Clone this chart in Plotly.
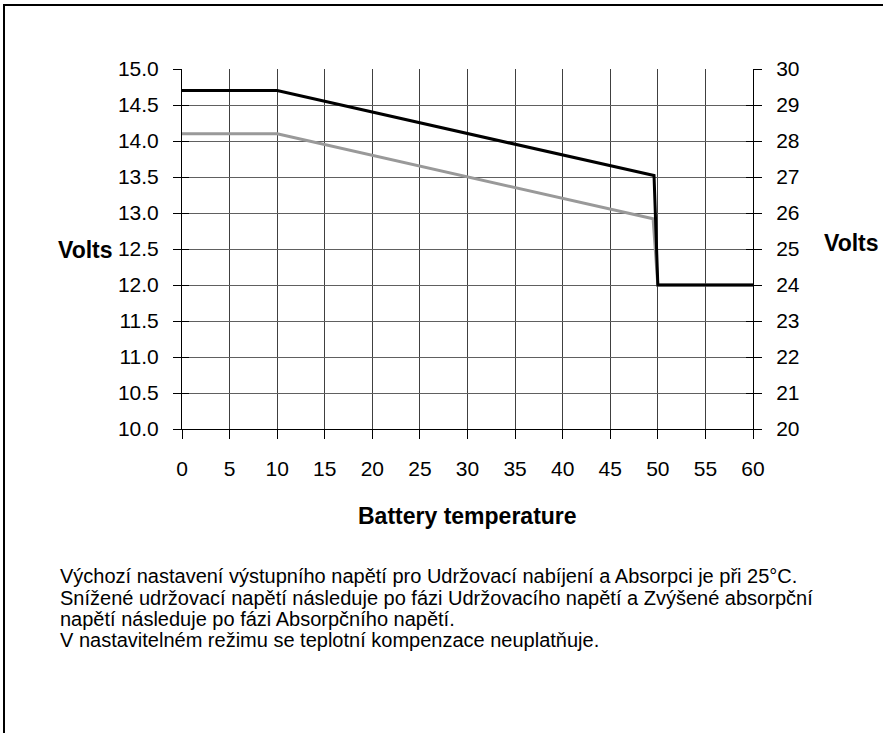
import plotly.graph_objects as go

# ---- data ----
temp_abs = [0, 10, 49.6, 50, 60]
volts_abs = [14.7, 14.7, 13.52, 12.0, 12.0]
temp_float = [0, 10, 49.5, 50, 60]
volts_float = [14.1, 14.1, 12.92, 12.0, 12.0]

x_ticks = [0, 5, 10, 15, 20, 25, 30, 35, 40, 45, 50, 55, 60]
left_ticks = [10.0, 10.5, 11.0, 11.5, 12.0, 12.5, 13.0, 13.5, 14.0, 14.5, 15.0]
left_labels = ["%.1f" % v for v in left_ticks]
right_ticks = [20, 21, 22, 23, 24, 25, 26, 27, 28, 29, 30]
right_labels = [str(v) for v in right_ticks]

note_lines = [
    "Výchozí nastavení výstupního napětí pro Udržovací nabíjení a Absorpci je při 25°C.",
    "Snížené udržovací napětí následuje po fázi Udržovacího napětí a Zvýšené absorpční",
    "napětí následuje po fázi Absorpčního napětí.",
    "V nastavitelném režimu se teplotní kompenzace neuplatňuje.",
]

# ---- layout geometry (pixels) ----
W, H = 883, 733
PL, PR, PT, PB = 182, 753, 69, 429
FONT = "Liberation Sans, Arial, sans-serif"


def px(x):
    return (x - PL) / (PR - PL)


def py(y):
    return (PB - y) / (PB - PT)


fig = go.Figure()
fig.add_trace(go.Scatter(x=temp_float, y=volts_float, mode="lines",
                         line=dict(color="#999999", width=3), showlegend=False,
                         yaxis="y"))
fig.add_trace(go.Scatter(x=temp_abs, y=volts_abs, mode="lines",
                         line=dict(color="#000000", width=3), showlegend=False,
                         yaxis="y"))
# invisible helpers so the overlay axes are active
for ax, val in (("y2", 20), ("y3", 10), ("y4", 10)):
    fig.add_trace(go.Scatter(x=[0], y=[val], mode="markers", marker=dict(opacity=0),
                             showlegend=False, hoverinfo="skip", yaxis=ax))

tickfont = dict(family=FONT, size=21, color="black")

fig.update_layout(
    width=W, height=H,
    margin=dict(l=PL, r=W - PR, t=PT, b=H - PB, pad=0),
    paper_bgcolor="white", plot_bgcolor="white",
    xaxis=dict(range=[0, 60], tickvals=x_ticks, ticktext=[str(v) for v in x_ticks],
               ticks="outside", ticklen=9, tickcolor="black", tickwidth=1,
               showline=True, linecolor="black", linewidth=1,
               showgrid=True, gridcolor="#404040", gridwidth=1,
               zeroline=False, tickfont=tickfont, ticklabelstandoff=12),
    # main y axis: horizontal grid only (no line at 15.0)
    yaxis=dict(range=[10, 15], tickvals=left_ticks[:-1], ticks="",
               showticklabels=False, showgrid=True, gridcolor="#606060", gridwidth=1,
               showline=True, linecolor="black", linewidth=1, zeroline=False),
    # right axis labels
    yaxis2=dict(range=[20, 30], tickvals=right_ticks, ticktext=right_labels,
                overlaying="y", side="right",
                ticks="outside", ticklen=8, tickcolor="black", tickwidth=1,
                showline=True, linecolor="black", linewidth=1,
                showgrid=False, zeroline=False, tickfont=tickfont,
                ticklabelstandoff=10),
    # left axis labels
    yaxis3=dict(range=[10, 15], tickvals=left_ticks, ticktext=left_labels,
                overlaying="y", side="left",
                ticks="outside", ticklen=8, tickcolor="black", tickwidth=1,
                showline=False, showgrid=False, zeroline=False, tickfont=tickfont,
                ticklabelstandoff=10),
    # inner halves of the crossing ticks, both sides
    yaxis4=dict(range=[10, 15], tickvals=left_ticks, overlaying="y",
                ticks="inside", ticklen=7, tickcolor="black", mirror="ticks",
                showticklabels=False, showgrid=False, zeroline=False,
                showline=False),
)

annotations = [
    dict(text="<b>Volts</b>", x=px(115), y=py(250), xanchor="right", yanchor="middle",
         font=dict(family=FONT, size=23, color="black")),
    dict(text="<b>Volts</b>", x=px(822), y=py(243), xanchor="left", yanchor="middle",
         font=dict(family=FONT, size=23, color="black")),
    dict(text="<b>Battery temperature</b>", x=px(467.5), y=py(516), xanchor="center",
         yanchor="middle", font=dict(family=FONT, size=23, color="black")),
]
line_y = [576, 598, 619, 640]
for txt, yy in zip(note_lines, line_y):
    annotations.append(dict(text=txt, x=px(58), y=py(yy), xanchor="left", yanchor="middle",
                            align="left", font=dict(family=FONT, size=20, color="black")))
for a in annotations:
    a.update(xref="paper", yref="paper", showarrow=False)
fig.update_layout(annotations=annotations)

# outer frame (extends past right and bottom edges)
fig.add_shape(type="rect", xref="paper", yref="paper",
              x0=px(4), x1=px(W + 10), y0=py(H + 10), y1=py(5),
              line=dict(color="black", width=2), fillcolor="rgba(0,0,0,0)", layer="below")

fig.write_html(
    "out.html",
    config={"displayModeBar": False},
    post_script="document.body.style.margin='0';document.body.style.overflow='hidden';",
)
